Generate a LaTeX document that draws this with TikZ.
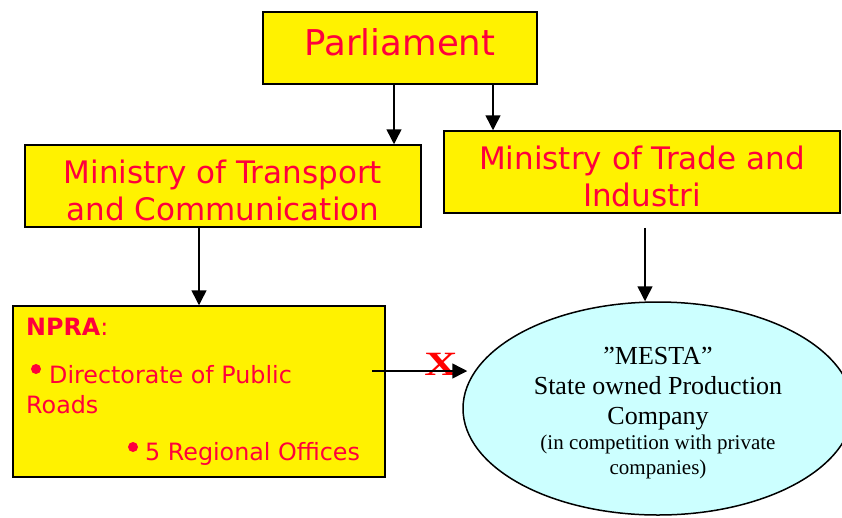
\documentclass[tikz,border=0pt]{standalone}
\usepackage{fontspec}
\setmainfont{Liberation Serif}
\newfontfamily\verd{DejaVu Sans}
\usetikzlibrary{shapes.geometric,arrows.meta}

\definecolor{ofred}{RGB}{255,0,60}
\definecolor{paleblue}{RGB}{204,255,255}

\tikzstyle{office}=[rectangle,
                                    line width=1.5pt,
                                    draw=black,
                                    fill=yellow,
                                    text=ofred,
                                    inner sep=0pt,
                                    align=center,
                                    font=\verd\fontsize{31}{37}\selectfont]
\tikzstyle{company}=[ellipse,
                                    line width=1.5pt,
                                    draw=black,
                                    fill=paleblue,
                                    inner sep=0pt,
                                    align=center,
                                    font=\fontsize{26}{30}\selectfont]
\tikzstyle{label}=[anchor=base west,
                                    inner sep=0pt,
                                    text=ofred,
                                    font=\verd\fontsize{23.8}{28}\selectfont]
\tikzstyle{bullet}=[circle,
                                    inner sep=0pt,
                                    minimum size=10pt,
                                    fill=ofred]

\begin{document}
\begin{tikzpicture}[x=1pt,y=-1pt,>={Triangle[length=15pt,width=15pt]}]
  \useasboundingbox (0,0) rectangle (842,517);

  % Upper part: parliament and the two ministries
  % (the struts only move the texts up or down inside their boxes)
  \node (parl) [office, minimum width=274pt, minimum height=72pt,
                font=\verd\fontsize{35.5}{40}\selectfont] at (400,48)
        {Parliament\rule[-12pt]{0pt}{0pt}};
  \node (mot) [office, minimum width=396pt, minimum height=82pt] at (223,186)
        {\rule{0pt}{33pt}Ministry of Transport\\and Communication};
  \node (trade) [office, minimum width=396pt, minimum height=82pt] at (642,172)
        {\rule{0pt}{33pt}Ministry of Trade and\\Industri};

  % Lower part: the road administration and the company
  \node (npra) [office, minimum width=372pt, minimum height=171pt] at (199,391.5) {};
  \node (npra_head) [label] at (26,335) {{\bfseries NPRA}:};
  \node (b1) [bullet] at (36,369) {};
  \node (npra_dir) [label] at (49,383) {Directorate of Public};
  \node (npra_roads) [label] at (26,413) {Roads};
  \node (b2) [bullet] at (133,447) {};
  \node (npra_reg) [label] at (145,460) {5 Regional Offices};

  \node (mesta) [company, minimum width=390pt, minimum height=213pt] at (658,408.5)
        {\rule{0pt}{26pt}”MESTA”\\State owned Production\\Company\\[-5pt]
         {\fontsize{21}{25}\selectfont (in competition with private}\\[-5pt]
         {\fontsize{21}{25}\selectfont companies)}};

  % The red cross on the blocked link
  \node (cross) [text=red, inner sep=0pt, font=\bfseries\fontsize{34}{34}\selectfont]
        at (441,364) {\scalebox{1.35}[1]{X}};

  % Start and end points of the connectors
  \coordinate (p1) at ([xshift=-6pt]parl.south);
  \coordinate (p2) at ([xshift=93pt,yshift=1pt]parl.south);
  \coordinate (m1) at (mot.south -| npra.north);
  \coordinate (t1) at ([xshift=3pt,yshift=-14pt]trade.south);
  \coordinate (x1) at (372,371);
  \coordinate (x2) at ([xshift=5pt]x1 -| mesta.west);

  % The connectors
  \path[->, line width=1.5pt]
        (p1) edge (p1 |- mot.north)
        (p2) edge (p2 |- trade.north)
        (m1) edge (npra.north)
        (t1) edge (t1 |- mesta.north)
        (x1) edge (x2)
        ;

\end{tikzpicture}
\end{document}
